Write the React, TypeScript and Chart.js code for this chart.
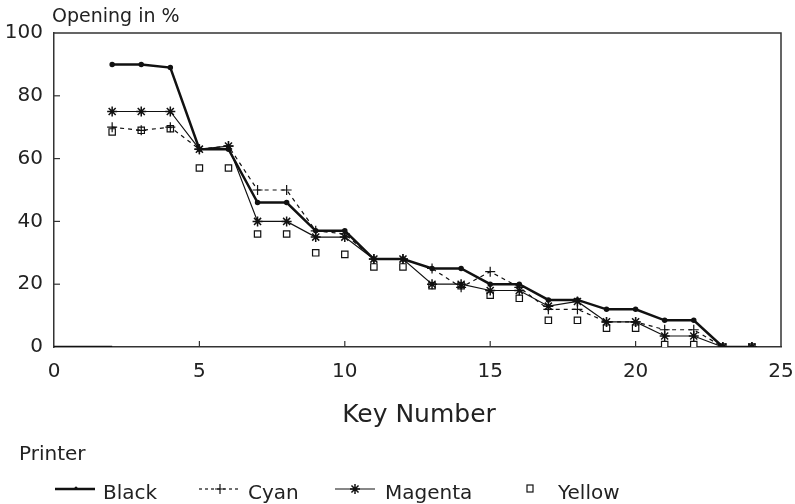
import React, { useEffect, useRef } from "react";
import { Chart, registerables } from "chart.js";

Chart.register(...registerables);

const keys = [2, 3, 4, 5, 6, 7, 8, 9, 10, 11, 12, 13, 14, 15, 16, 17, 18, 19, 20, 21, 22, 23, 24];
const blackValues = [90, 90, 89, 63, 63, 46, 46, 37, 37, 28, 28, 25, 25, 20, 20, 15, 15, 12, 12, 8.5, 8.5, 0, 0];
const cyanValues = [70, 69, 70, 63, 64, 50, 50, 37, 36, 28, 28, 25, 19, 24, 19, 12, 12, 8, 8, 5.5, 5.5, 0, 0];
const magentaValues = [75, 75, 75, 63, 64, 40, 40, 35, 35, 28, 28, 20, 20, 18, 18, 13, 14.5, 8, 8, 3.5, 3.5, 0, 0];
const yellowValues = [68.5, 69, 69.5, 57, 57, 36, 36, 30, 29.5, 25.5, 25.5, 19.5, 19.5, 16.5, 15.5, 8.5, 8.5, 6, 6, 0.8, 0.8, 0, 0];
const baselineKeys = [0, 2];
const baselineValues = [0, 0];

const seriesNames = ["Black", "Cyan", "Magenta", "Yellow"];
const xTickValues = [0, 5, 10, 15, 20, 25];
const yTickValues = [0, 20, 40, 60, 80, 100];
const yAxisTitle = "Opening in %";
const xAxisTitle = "Key Number";
const legendTitle = "Printer";

const FONT = '"DejaVu Sans", "Liberation Sans", sans-serif';
const INK = "#222";

const toPoints = (xs: number[], ys: number[]) => xs.map((x, i) => ({ x, y: ys[i] }));

const decorPlugin = {
  id: "decor",
  afterDraw(chart: any) {
    const ctx = chart.ctx as CanvasRenderingContext2D;
    const { left, top, right, bottom } = chart.chartArea;
    const xs = chart.scales.x;
    const ys = chart.scales.y;
    ctx.save();
    ctx.strokeStyle = "#333";
    ctx.lineWidth = 1.5;
    ctx.beginPath();
    ctx.moveTo(left, top);
    ctx.lineTo(right, top);
    ctx.lineTo(right, bottom);
    ctx.stroke();
    ctx.lineWidth = 1.2;
    xTickValues.slice(1, -1).forEach((v) => {
      const px = xs.getPixelForValue(v);
      ctx.beginPath();
      ctx.moveTo(px, bottom);
      ctx.lineTo(px, bottom - 6);
      ctx.stroke();
    });
    yTickValues.slice(1, -1).forEach((v) => {
      const py = ys.getPixelForValue(v);
      ctx.beginPath();
      ctx.moveTo(left, py);
      ctx.lineTo(left + 6, py);
      ctx.stroke();
    });

    ctx.fillStyle = INK;
    ctx.textBaseline = "alphabetic";
    ctx.textAlign = "left";
    ctx.font = `19px ${FONT}`;
    ctx.fillText(yAxisTitle, 52, 22);

    ctx.font = `25px ${FONT}`;
    ctx.textAlign = "center";
    ctx.fillText(xAxisTitle, 419, 422);

    ctx.textAlign = "left";
    ctx.font = `20px ${FONT}`;
    ctx.fillText(legendTitle, 19, 460);

    const ly = 489;
    const base = 499;
    ctx.strokeStyle = "#111";
    ctx.fillStyle = "#111";
    // Black
    ctx.lineWidth = 2.5;
    ctx.setLineDash([]);
    ctx.beginPath();
    ctx.moveTo(55, ly);
    ctx.lineTo(95, ly);
    ctx.stroke();
    ctx.beginPath();
    ctx.arc(76, ly - 1, 1.5, 0, Math.PI * 2);
    ctx.fill();
    // Cyan
    ctx.lineWidth = 1.2;
    ctx.setLineDash([3, 3]);
    ctx.beginPath();
    ctx.moveTo(199, ly);
    ctx.lineTo(241, ly);
    ctx.stroke();
    ctx.setLineDash([]);
    ctx.beginPath();
    ctx.moveTo(220, ly - 5);
    ctx.lineTo(220, ly + 5);
    ctx.moveTo(215, ly);
    ctx.lineTo(225, ly);
    ctx.stroke();
    // Magenta
    ctx.lineWidth = 1.2;
    ctx.beginPath();
    ctx.moveTo(335, ly);
    ctx.lineTo(375, ly);
    ctx.stroke();
    ctx.lineWidth = 1.5;
    ctx.beginPath();
    for (let k = 0; k < 4; k++) {
      const a = (k * Math.PI) / 4;
      ctx.moveTo(355 - 5 * Math.cos(a), ly - 5 * Math.sin(a));
      ctx.lineTo(355 + 5 * Math.cos(a), ly + 5 * Math.sin(a));
    }
    ctx.stroke();
    // Yellow
    ctx.lineWidth = 1.2;
    ctx.strokeRect(527, ly - 4, 6, 7);

    ctx.fillStyle = INK;
    ctx.fillText(seriesNames[0], 103, base);
    ctx.fillText(seriesNames[1], 248, base);
    ctx.fillText(seriesNames[2], 385, base);
    ctx.fillText(seriesNames[3], 558, base);
    ctx.restore();
  },
};

export default function App() {
  const ref = useRef<HTMLCanvasElement | null>(null);
  useEffect(() => {
    if (!ref.current) return;
    const chart = new Chart(ref.current, {
      type: "line",
      data: {
        datasets: [
          {
            label: "baseline",
            data: toPoints(baselineKeys, baselineValues),
            borderColor: "#111",
            borderWidth: 2.5,
            pointRadius: 0,
          },
          {
            label: seriesNames[0],
            data: toPoints(keys, blackValues),
            borderColor: "#111",
            backgroundColor: "#111",
            borderWidth: 2.5,
            pointStyle: "circle",
            pointRadius: 1.5,
          },
          {
            label: seriesNames[1],
            data: toPoints(keys, cyanValues),
            borderColor: "#111",
            backgroundColor: "#111",
            borderWidth: 1.2,
            borderDash: [4, 4],
            pointStyle: "cross",
            pointRadius: 5,
            pointBorderWidth: 1.2,
          },
          {
            label: seriesNames[2],
            data: toPoints(keys, magentaValues),
            borderColor: "#111",
            backgroundColor: "#111",
            borderWidth: 1.2,
            pointStyle: "star",
            pointRadius: 5,
            pointBorderWidth: 1.5,
          },
          {
            label: seriesNames[3],
            data: toPoints(keys, yellowValues),
            borderColor: "#111",
            backgroundColor: "#fff",
            showLine: false,
            pointStyle: "rect",
            pointRadius: 4.5,
            pointBorderWidth: 1.2,
          },
        ],
      },
      options: {
        animation: false,
        responsive: false,
        events: [],
        layout: { padding: { left: 0, top: 33, right: 14, bottom: 0 } },
        plugins: {
          legend: { display: false },
          title: { display: false },
          tooltip: { enabled: false },
        },
        scales: {
          x: {
            type: "linear",
            min: 0,
            max: 25,
            afterFit: (axis: any) => {
              axis.height = 504 - 347;
              axis.paddingLeft = 0;
              axis.paddingRight = 0;
            },
            afterBuildTicks: (axis: any) => {
              axis.ticks = xTickValues.map((v) => ({ value: v }));
            },
            grid: { display: false, drawTicks: false },
            border: { display: true, color: "#333", width: 1.5 },
            ticks: {
              padding: 13,
              color: INK,
              font: { family: FONT, size: 20 },
              maxRotation: 0,
            },
          },
          y: {
            min: 0,
            max: 100,
            afterFit: (axis: any) => {
              axis.width = 54;
              axis.paddingTop = 0;
              axis.paddingBottom = 0;
            },
            afterBuildTicks: (axis: any) => {
              axis.ticks = yTickValues.map((v) => ({ value: v }));
            },
            grid: { display: false, drawTicks: false },
            border: { display: true, color: "#333", width: 1.5 },
            ticks: {
              padding: 11,
              color: INK,
              font: { family: FONT, size: 20 },
            },
          },
        },
      },
      plugins: [decorPlugin],
    });
    return () => chart.destroy();
  }, []);
  return (
    <div style={{ position: "absolute", left: 0, top: 0, width: 795, height: 504, background: "#fff" }}>
      <canvas ref={ref} width={795} height={504} />
    </div>
  );
}
